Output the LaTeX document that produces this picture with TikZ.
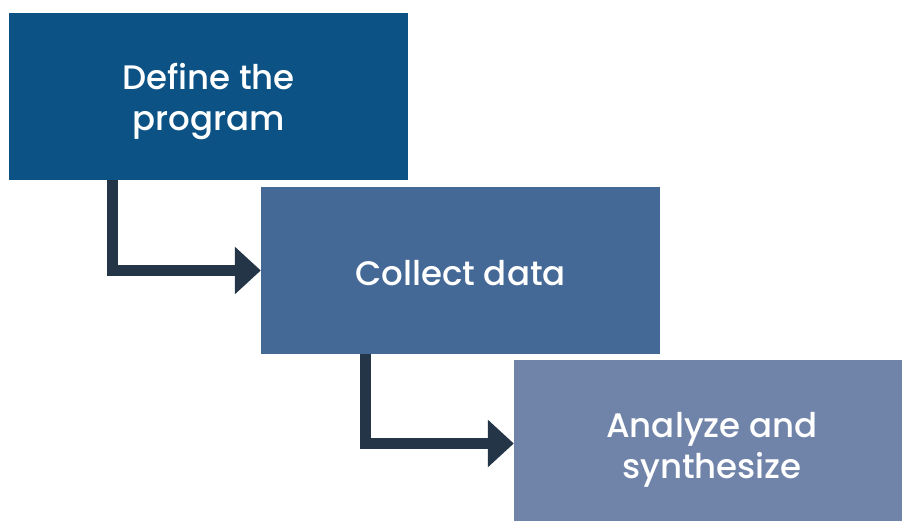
\documentclass[tikz,border=0pt]{standalone}
\usepackage{fontspec}
\setmainfont{Poppins}[UprightFont={* Medium}]
\usetikzlibrary{arrows.meta}
\definecolor{boxA}{HTML}{0C5285}
\definecolor{boxB}{HTML}{446996}
\definecolor{boxC}{HTML}{7084AA}
\definecolor{arr}{HTML}{233547}
\tikzset{
  panel/.style={rectangle, inner sep=0pt, draw=none, minimum width=399pt, minimum height=167pt},
  steptext/.style={inner sep=0pt, text=white, align=center,
    font=\fontsize{34}{41}\selectfont},
  flow/.style={draw=arr, line width=11pt, -{Triangle[width=46pt,length=26pt]}}
}
\begin{document}
\begin{tikzpicture}[x=1pt,y=-1pt]
\useasboundingbox (0,0) rectangle (902,522);
\fill[white] (0,0) rectangle (902,522);
\node[panel, fill=boxA] (boxa) at (208.5,96.5) {};
\node[panel, fill=boxB] (boxb) at (460.5,270.5) {};
\node[panel, fill=boxC, minimum width=388pt, minimum height=161pt] (boxc) at (708,440.5) {};
\node[steptext] (a) at (208.5,101.5) {Define the\\program};
\node[steptext] (b) at (460.5,273) {Collect data};
\node[steptext] (c) at (712,450) {Analyze and\\synthesize};
\draw[flow] ([xshift=103.5pt]boxa.south west) |- (boxb.west);
\draw[flow] ([xshift=104.5pt]boxb.south west) |- ([yshift=-3pt]boxc.west);
\end{tikzpicture}
\end{document}
